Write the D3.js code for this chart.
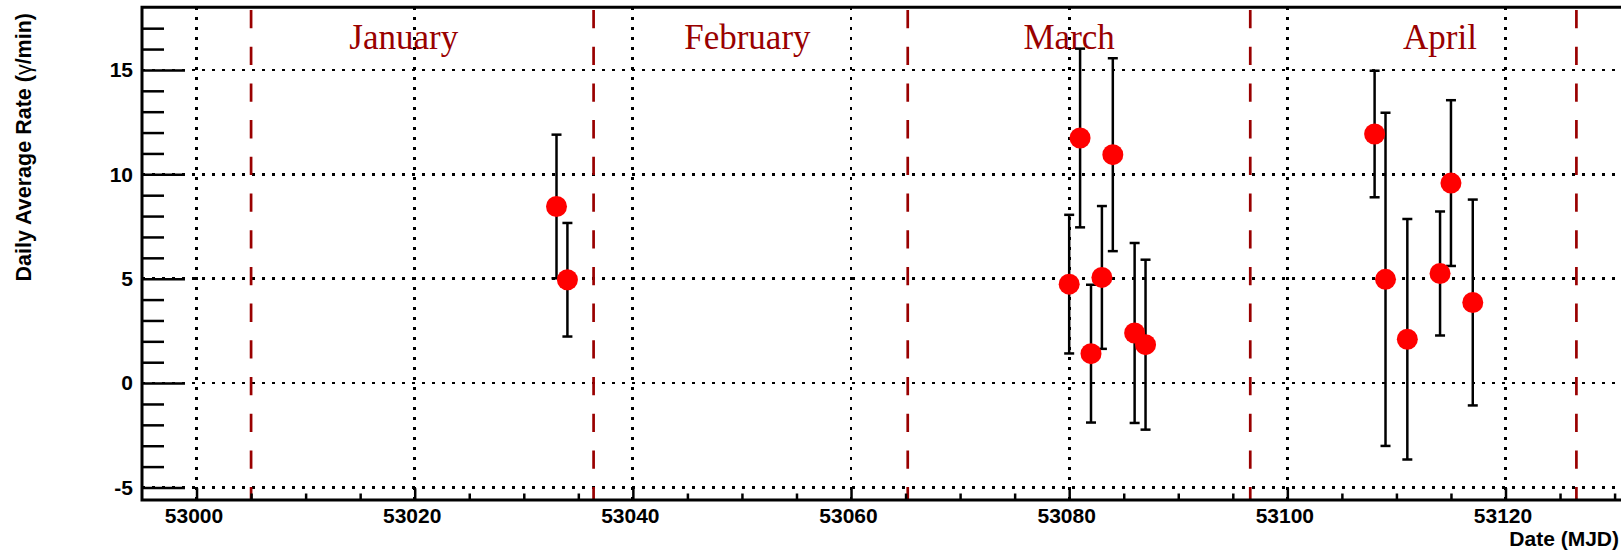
<!DOCTYPE html>
<html lang="en">

<head>
    <meta charset="UTF-8">
    <title>Daily Average Rate</title>
    <script type="text/javascript" src="https://cdn.jsdelivr.net/npm/d3@7"></script>
    <style>
        body { margin: 0; background: #fff; }
        svg text { font-family: "Liberation Sans", Arial, sans-serif; font-weight: bold; }
    </style>
</head>

<body>

    <div id="displayhere"></div>

    <script>
        // Data
        var days = [53033, 53034, 53080, 53081, 53082, 53083, 53084, 53086, 53087,
                    53108, 53109, 53111, 53114, 53115, 53117];
        var rates = [8.46, 4.95, 4.74, 11.74, 1.41, 5.06, 10.94, 2.40, 1.84,
                     11.93, 4.97, 2.10, 5.25, 9.58, 3.86];
        var errors = [3.44, 2.72, 3.32, 4.28, 3.30, 3.42, 4.62, 4.31, 4.07,
                      3.03, 7.98, 5.76, 2.97, 3.97, 4.93];

        var monthNames = ["January", "February", "March", "April"];
        var monthLabelDays = [53019, 53050.5, 53080, 53114];
        var monthStarts = [53005, 53036.4, 53065.2, 53096.6, 53126.5];

        var xMajorTicks = [53000, 53020, 53040, 53060, 53080, 53100, 53120];
        var yMajorTicks = [-5, 0, 5, 10, 15];

        // Size of chart
        var w = 1621;
        var h = 550;
        var plotLeft = 142, plotTop = 7.3, plotBottom = 500;
        var darkRed = "#990000";

        var x = d3.scaleLinear().domain([52995, 53135]).range([plotLeft, plotLeft + 140 * 10.908]);
        var y = d3.scaleLinear().domain([-5.6, 18]).range([plotBottom, plotTop]);

        var svg = d3.select('#displayhere')
            .append("svg")
            .attr("width", w)
            .attr("height", h);

        drawGrid();
        drawMonths();
        drawAxes();
        drawPoints();

        function drawGrid() {
            var grid = svg.append("g")
                .attr("stroke", "#000")
                .attr("stroke-width", 2.8)
                .attr("stroke-dasharray", "2.8,7.2")
                .attr("shape-rendering", "crispEdges");

            grid.selectAll(".gx")
                .data(xMajorTicks)
                .enter().append("line")
                .attr("x1", function(d) { return x(d); })
                .attr("x2", function(d) { return x(d); })
                .attr("y1", y(18))
                .attr("y2", y(-5.6));

            grid.selectAll(".gy")
                .data(yMajorTicks)
                .enter().append("line")
                .attr("x1", plotLeft)
                .attr("x2", w)
                .attr("y1", function(d) { return y(d); })
                .attr("y2", function(d) { return y(d); });
        }

        function drawMonths() {
            svg.append("g").selectAll("line")
                .data(monthStarts)
                .enter().append("line")
                .attr("x1", function(d) { return x(d); })
                .attr("x2", function(d) { return x(d); })
                .attr("y1", y(18))
                .attr("y2", y(-5.6))
                .attr("stroke", darkRed)
                .attr("stroke-width", 2.7)
                .attr("stroke-dasharray", "18.3,18.4")
                .attr("stroke-dashoffset", 34);

            svg.append("g").selectAll("text")
                .data(monthNames)
                .enter().append("text")
                .attr("x", function(d, i) { return x(monthLabelDays[i]); })
                .attr("y", 49)
                .attr("text-anchor", "middle")
                .style("font-family", "'Liberation Serif', 'Times New Roman', serif")
                .style("font-weight", "normal")
                .style("font-size", "35px")
                .attr("fill", darkRed)
                .text(function(d) { return d; });
        }

        function drawAxes() {
            var yMinor = d3.range(-5, 18, 1).filter(function(d) { return d % 5 !== 0; });
            var xMinor = d3.range(53000, 53135, 5).filter(function(d) { return d % 20 !== 0; });

            // y axis, ticks drawn inside the frame
            svg.append("g")
                .attr("transform", "translate(" + plotLeft + ",0)")
                .call(d3.axisLeft(y).tickValues(yMinor).tickSize(-22).tickFormat(""))
                .call(styleAxis);
            svg.append("g")
                .attr("transform", "translate(" + plotLeft + ",0)")
                .call(d3.axisLeft(y).tickValues(yMajorTicks).tickSize(-43).tickPadding(9)
                    .tickFormat(function(d) { return String(d); }))
                .call(styleAxis);

            // x axis
            svg.append("g")
                .attr("transform", "translate(0," + plotBottom + ")")
                .call(d3.axisBottom(x).tickValues(xMinor).tickSize(-6.5).tickFormat(""))
                .call(styleAxis);
            svg.append("g")
                .attr("transform", "translate(0," + plotBottom + ")")
                .call(d3.axisBottom(x).tickValues(xMajorTicks).tickSize(-11.7).tickPadding(8).tickFormat(d3.format("d")))
                .call(styleAxis)
                .selectAll(".tick text").attr("dx", -3);

            // frame (right side runs off the picture)
            svg.append("path")
                .attr("d", "M" + (w + 5) + "," + plotTop + "H" + plotLeft + "V" + plotBottom + "H" + (w + 5))
                .attr("fill", "none")
                .attr("stroke", "#000")
                .attr("stroke-width", 3);

            // titles
            svg.append("text")
                .attr("x", 1619)
                .attr("y", 546)
                .attr("text-anchor", "end")
                .style("font-size", "21px")
                .text("Date (MJD)");

            var yt = svg.append("text")
                .attr("transform", "translate(31,13) rotate(-90)")
                .attr("text-anchor", "end")
                .style("font-size", "21.5px");
            yt.append("tspan").text("Daily Average Rate (");
            yt.append("tspan").style("font-weight", "normal").text("γ");
            yt.append("tspan").text("/min)");
        }

        function styleAxis(g) {
            g.select(".domain").remove();
            g.selectAll(".tick line").attr("stroke", "#000").attr("stroke-width", 2.5);
            g.selectAll(".tick text")
                .attr("fill", "#000")
                .style("font-size", "21px")
                .style("font-family", "'Liberation Sans', Arial, sans-serif")
                .style("font-weight", "bold");
        }

        function drawPoints() {
            var bars = svg.append("g")
                .attr("stroke", "#000")
                .attr("stroke-width", 2.5);

            days.forEach(function(d, i) {
                var cx = x(d);
                var yHi = y(rates[i] + errors[i]);
                var yLo = y(rates[i] - errors[i]);
                bars.append("line").attr("x1", cx).attr("x2", cx).attr("y1", yHi).attr("y2", yLo);
                bars.append("line").attr("x1", cx - 5).attr("x2", cx + 5).attr("y1", yHi).attr("y2", yHi);
                bars.append("line").attr("x1", cx - 5).attr("x2", cx + 5).attr("y1", yLo).attr("y2", yLo);
            });

            svg.append("g").selectAll("circle")
                .data(days)
                .enter().append("circle")
                .attr("cx", function(d) { return x(d); })
                .attr("cy", function(d, i) { return y(rates[i]); })
                .attr("r", 10.5)
                .attr("fill", "#ff0000");
        }
    </script>

</body>

</html>
